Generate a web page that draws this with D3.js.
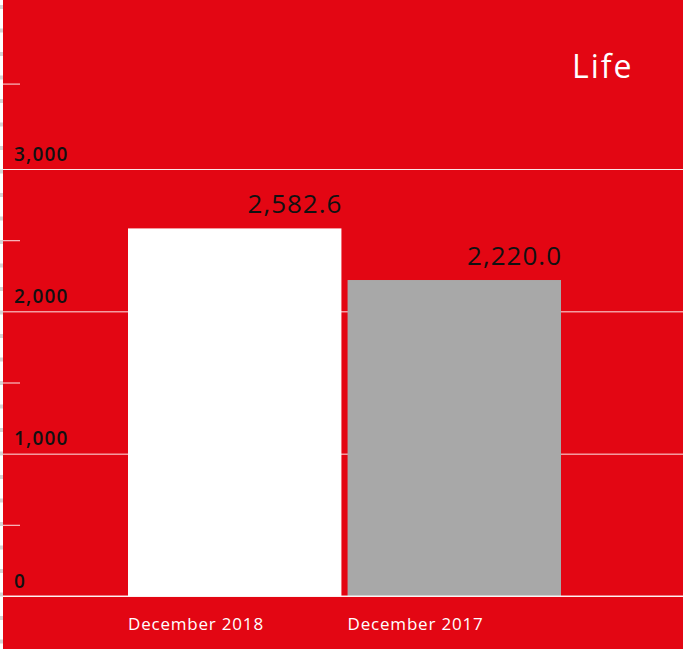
<!DOCTYPE html>
<html>
<head>
<meta charset="utf-8">
<script src="https://cdn.jsdelivr.net/npm/d3@7"></script>
<style>
  html, body { margin: 0; padding: 0; background: #ffffff; }
  svg { display: block; }
</style>
</head>
<body>
<svg id="chart" width="683" height="649"></svg>
<script>
// Life portfolio, year-end comparison
const categories = ["December 2018", "December 2017"];
const values = [2582.6, 2220.0];
const valueLabels = ["2,582.6", "2,220.0"];
const barColors = ["#ffffff", "#a8a8a8"];
const majorTicks = [0, 1000, 2000, 3000];
const minorTicks = [500, 1500, 2500, 3600];
const title = "Life";

const W = 683, H = 649;
const RED = "#e30613";
const FONT = "'Open Sans', 'DejaVu Sans', sans-serif";

const svg = d3.select("#chart");

// panel background with the light dashed left rim
svg.append("rect").attr("x", 3).attr("y", 0).attr("width", W - 3).attr("height", H).attr("fill", RED);
svg.append("line")
  .attr("x1", 1.5).attr("x2", 1.5).attr("y1", 5).attr("y2", H)
  .attr("stroke", "#d4d4d4").attr("stroke-width", 3)
  .attr("stroke-dasharray", "4,19.5");

const y = d3.scaleLinear().domain([0, 3000]).range([596, 169]);
const x = d3.scaleBand().domain(categories).range([128, 561]).paddingInner(0.028).paddingOuter(0);

// horizontal gridlines with labels sitting above them
const grid = svg.append("g")
  .attr("transform", "translate(3,0)")
  .call(d3.axisRight(y).tickValues(majorTicks).tickSize(W - 3).tickFormat(d3.format(",")));
grid.select(".domain").remove();
grid.selectAll(".tick line").attr("stroke", "#ffffff").attr("stroke-opacity", 0.9).attr("stroke-width", 1);
grid.selectAll(".tick text")
  .attr("x", 11).attr("y", -9).attr("dy", 0)
  .attr("text-anchor", "start")
  .attr("fill", "#111111")
  .style("font-family", FONT).style("font-size", "19px").style("font-weight", 600)
  .style("letter-spacing", "1.2px");

// short intermediate ticks on the left edge
const minor = svg.append("g")
  .attr("transform", "translate(3,0)")
  .call(d3.axisRight(y).tickValues(minorTicks).tickSize(17).tickFormat(""));
minor.select(".domain").remove();
minor.selectAll(".tick line").attr("stroke", "#ffffff").attr("stroke-opacity", 0.75).attr("stroke-width", 1.2);

// bars
svg.append("g").selectAll("rect")
  .data(values)
  .join("rect")
  .attr("x", (d, i) => x(categories[i]))
  .attr("y", d => y(d))
  .attr("width", x.bandwidth())
  .attr("height", d => y(0) - y(d))
  .attr("fill", (d, i) => barColors[i]);

// baseline redrawn over the bars
svg.append("line")
  .attr("x1", 3).attr("x2", W).attr("y1", y(0)).attr("y2", y(0))
  .attr("stroke", "#ffffff").attr("stroke-opacity", 0.9);

// value labels, right-aligned to each bar
svg.append("g").selectAll("text")
  .data(values)
  .join("text")
  .attr("x", (d, i) => x(categories[i]) + x.bandwidth() + 1)
  .attr("y", d => y(d) - 15)
  .attr("text-anchor", "end")
  .attr("fill", "#111111")
  .style("font-family", FONT).style("font-size", "26px")
  .style("letter-spacing", "1px")
  .text((d, i) => valueLabels[i]);

// category axis, labels aligned to the left edge of each bar
const xAxis = svg.append("g")
  .attr("transform", `translate(0,${y(0)})`)
  .call(d3.axisBottom(x).tickSize(0));
xAxis.select(".domain").remove();
xAxis.selectAll(".tick text")
  .attr("x", -x.bandwidth() / 2)
  .attr("y", 34).attr("dy", 0)
  .attr("text-anchor", "start")
  .attr("fill", "#ffffff")
  .style("font-family", FONT).style("font-size", "17px")
  .style("letter-spacing", "0.8px");

// panel title
svg.append("text")
  .attr("x", 572).attr("y", 78)
  .attr("fill", "#ffffff")
  .style("font-family", FONT).style("font-size", "32px")
  .style("letter-spacing", "2px")
  .text(title);
</script>
</body>
</html>
